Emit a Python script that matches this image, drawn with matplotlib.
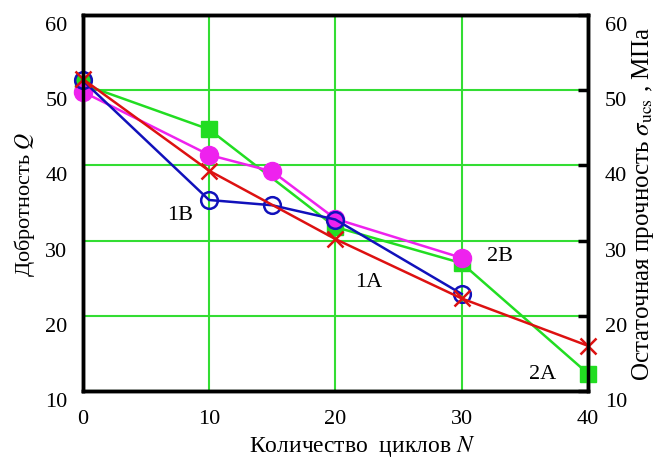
import matplotlib.pyplot as plt
from matplotlib.transforms import ScaledTranslation

plt.rcParams['font.family'] = ['Liberation Serif', 'DejaVu Serif']
plt.rcParams['mathtext.fontset'] = 'stix'

# 1A - red crosses
x_1a = [0, 10, 20, 30, 40]
y_1a = [51.5, 39.3, 30.2, 22.3, 16.0]
# 1B - blue open circles
x_1b = [0, 10, 15, 20, 30]
y_1b = [51.3, 35.4, 34.7, 32.8, 22.9]
# 2A - green squares
x_2a = [0, 10, 20, 30, 40]
y_2a = [50.8, 44.8, 31.8, 27.0, 12.3]
# 2B - magenta filled circles
x_2b = [0, 10, 15, 20, 30]
y_2b = [49.8, 41.4, 39.2, 32.9, 27.7]

fig = plt.figure(figsize=(6.57, 4.6), dpi=100)
ax = fig.add_axes([0.126, 0.148, 0.769, 0.817])

ax.plot(x_2a, y_2a, color='#22dd22', lw=1.8, marker='s', ms=11, zorder=3, clip_on=False)
ax.plot(x_2b, y_2b, color='#ee22ee', lw=1.8, marker='o', ms=13, zorder=4, clip_on=False)
ax.plot(x_1b, y_1b, color='#1111bb', lw=1.8, marker='o', ms=12, mfc='none', mew=1.8,
        zorder=5, clip_on=False)
ax.plot(x_1a, y_1a, color='#dd1111', lw=1.8, marker='x', ms=11, mew=1.8, zorder=6, clip_on=False)

ax.set_xlim(0, 40)
ax.set_ylim(10, 60)
ax.set_xticks([0, 10, 20, 30, 40])
ax.set_yticks([10, 20, 30, 40, 50, 60])
ax.grid(True, color='#33dd33', lw=1.5)
ax.set_axisbelow(True)
for s in ax.spines.values():
    s.set_linewidth(2.5)
ax.tick_params(length=0, labelsize=16)
ax.tick_params(axis='y', pad=11)
ax.tick_params(axis='x', pad=13)
ax.set_xlabel('Количество  циклов $N$', fontsize=17)
ax.xaxis.set_label_coords(0.553, -0.112)
ax.set_ylabel('Добротность $Q$', fontsize=16, labelpad=6)

ax2 = ax.twinx()
ax2.set_ylim(10, 60)
ax2.set_yticks([10, 20, 30, 40, 50, 60])
ax2.tick_params(direction='in', length=7, width=2.5, labelsize=16, pad=12)
ax2.set_ylabel('Остаточная прочность $\\sigma_{\\mathrm{ucs}}$ , МПа', fontsize=18, labelpad=2)
for s in ax2.spines.values():
    s.set_linewidth(2.5)

# y tick labels sit a little below their grid lines in the original
shift = ScaledTranslation(0, -0.08, fig.dpi_scale_trans)
for lab in ax.get_yticklabels() + ax2.get_yticklabels():
    lab.set_transform(lab.get_transform() + shift)

ax.text(7.7, 33.5, '1B', fontsize=16, ha='center', va='center')
ax.text(22.6, 24.6, '1A', fontsize=16, ha='center', va='center')
ax.text(33.0, 28.0, '2B', fontsize=16, ha='center', va='center')
ax.text(36.4, 12.3, '2A', fontsize=16, ha='center', va='center')

fig.savefig('out.png', dpi=100)
